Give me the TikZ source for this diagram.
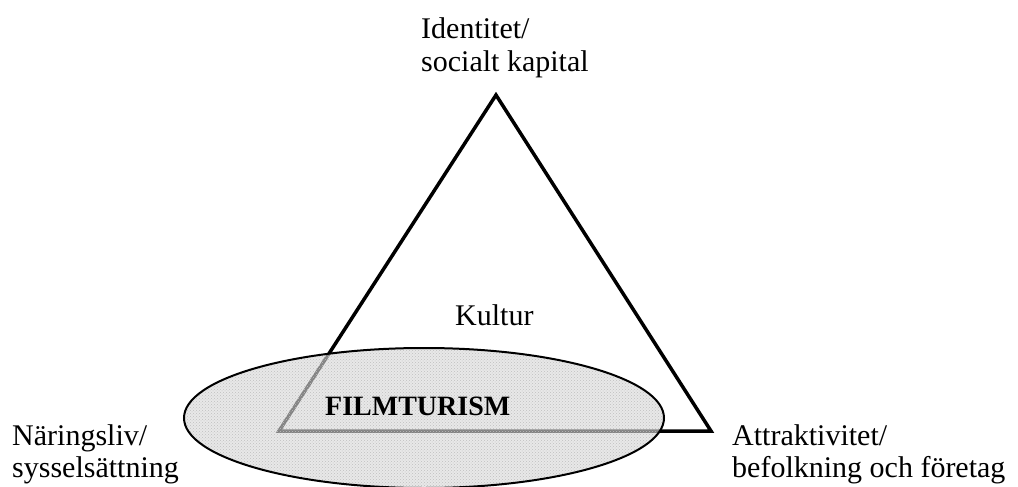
\documentclass[tikz,border=0pt]{standalone}
\usepackage{fontspec}
\setmainfont{Liberation Serif}
\usetikzlibrary{patterns}
\begin{document}
\begin{tikzpicture}[x=1pt,y=-1pt,
  lbl/.style={anchor=base west,inner sep=0pt,font=\fontsize{30}{33}\selectfont},
  tri/.style={line width=3.5pt,line join=miter},
  blob/.style={fill=gray!30,fill opacity=0.6}]
\useasboundingbox (0,0) rectangle (1018,487);
% triangle corners
\coordinate (apex) at (496,95);
\coordinate (bl) at (279,431);
\coordinate (br) at (711,431);
\draw[tri] (apex) -- (br) -- (bl) -- cycle;
% ellipse
\path[blob] (424,418) ellipse [x radius=240, y radius=70];
\path[pattern=crosshatch dots,pattern color=gray!50] (424,418) ellipse [x radius=239, y radius=69];
\draw[line width=2pt] (424,418) ellipse [x radius=240, y radius=70];
% labels
\node[lbl] (id1) at (421,39) {Identitet/};
\node[lbl] (id2) at (421,72) {socialt kapital};
\node[lbl] (kul) at (455,325) {Kultur};
\node[anchor=base west,inner sep=0pt,font=\fontsize{28}{30}\selectfont\bfseries] (film) at (325,415) {FILMTURISM};
\node[lbl] (na1) at (12,445) {Näringsliv/};
\node[lbl] (na2) at (12,477) {sysselsättning};
\node[lbl] (at1) at (732,445) {Attraktivitet/};
\node[lbl] (at2) at (732,477) {befolkning och företag};
\end{tikzpicture}
\end{document}
